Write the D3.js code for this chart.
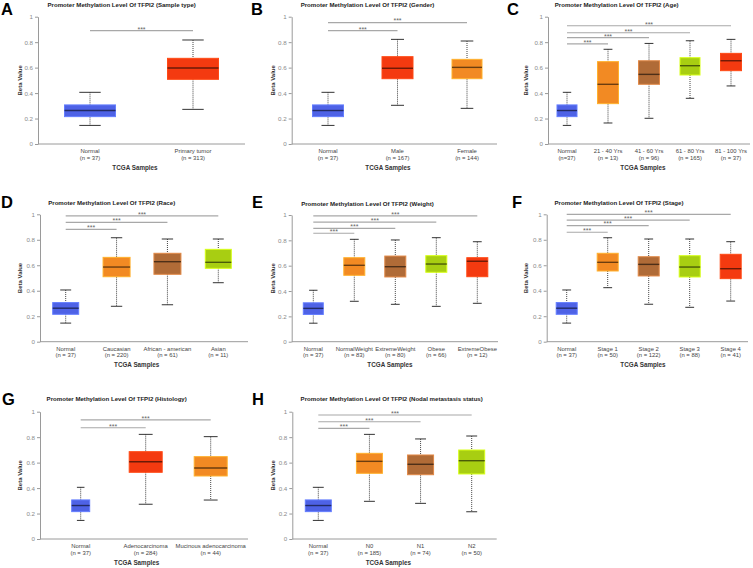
<!DOCTYPE html>
<html><head><meta charset="utf-8">
<script src="https://cdn.jsdelivr.net/npm/d3@7"></script>
<style>body{margin:0;background:#fff}svg{display:block}text{font-family:"Liberation Sans",Arial,sans-serif}</style>
</head><body><svg id="c" width="753" height="568"></svg>
<script>
// ---------- DATA ----------
const yTicks = [0, 0.2, 0.4, 0.6, 0.8, 1];
const sigLabel = "***";

const catsA = ["Normal", "Primary tumor"];
const nA = ["(n = 37)", "(n = 313)"];
const lowA = [0.146, 0.272], q1A = [0.215, 0.508], medA = [0.263, 0.597], q3A = [0.307, 0.673], highA = [0.406, 0.817];

const catsB = ["Normal", "Male", "Female"];
const nB = ["(n = 37)", "(n = 167)", "(n = 144)"];
const lowB = [0.146, 0.304, 0.28], q1B = [0.215, 0.513, 0.513], medB = [0.263, 0.595, 0.602], q3B = [0.307, 0.686, 0.665], highB = [0.406, 0.822, 0.809];

const catsC = ["Normal", "21 - 40 Yrs", "41 - 60 Yrs", "61 - 80 Yrs", "81 - 100 Yrs"];
const nC = ["(n=37)", "(n = 13)", "(n = 96)", "(n = 165)", "(n = 37)"];
const lowC = [0.146, 0.165, 0.202, 0.359, 0.456], q1C = [0.215, 0.317, 0.469, 0.542, 0.576], medC = [0.263, 0.469, 0.547, 0.615, 0.654], q3C = [0.307, 0.647, 0.654, 0.678, 0.712], highC = [0.406, 0.744, 0.79, 0.811, 0.822];

const catsD = ["Normal", "Caucasian", "African - american", "Asian"];
const nD = ["(n = 37)", "(n = 220)", "(n = 61)", "(n = 11)"];
const lowD = [0.146, 0.278, 0.29, 0.463], q1D = [0.215, 0.51, 0.529, 0.576], medD = [0.263, 0.586, 0.628, 0.623], q3D = [0.307, 0.662, 0.694, 0.725], highD = [0.406, 0.816, 0.806, 0.806];

const catsE = ["Normal", "NormalWeight", "ExtremeWeight", "Obese", "ExtremeObese"];
const nE = ["(n = 37)", "(n = 83)", "(n = 80)", "(n = 66)", "(n = 12)"];
const lowE = [0.146, 0.319, 0.295, 0.279, 0.303], q1E = [0.215, 0.524, 0.511, 0.548, 0.513], medE = [0.263, 0.603, 0.592, 0.613, 0.635], q3E = [0.307, 0.663, 0.676, 0.679, 0.663], highE = [0.406, 0.808, 0.803, 0.821, 0.789];

const catsF = ["Normal", "Stage 1", "Stage 2", "Stage 3", "Stage 4"];
const nF = ["(n = 37)", "(n = 50)", "(n = 122)", "(n = 88)", "(n = 41)"];
const lowF = [0.146, 0.424, 0.294, 0.27, 0.319], q1F = [0.215, 0.555, 0.516, 0.508, 0.495], medF = [0.263, 0.623, 0.607, 0.586, 0.573], q3F = [0.307, 0.694, 0.667, 0.675, 0.686], highF = [0.406, 0.816, 0.806, 0.806, 0.785];

const catsG = ["Normal", "Adenocarcinoma", "Mucinous adenocarcinoma"];
const nG = ["(n = 37)", "(n = 284)", "(n = 44)"];
const lowG = [0.146, 0.273, 0.306], q1G = [0.215, 0.524, 0.495], medG = [0.263, 0.607, 0.558], q3G = [0.307, 0.686, 0.647], highG = [0.406, 0.822, 0.804];

const catsH = ["Normal", "N0", "N1", "N2"];
const nH = ["(n = 37)", "(n = 185)", "(n = 74)", "(n = 50)"];
const lowH = [0.146, 0.296, 0.28, 0.214], q1H = [0.215, 0.516, 0.505, 0.511], medH = [0.263, 0.61, 0.587, 0.615], q3H = [0.307, 0.673, 0.66, 0.699], highH = [0.406, 0.822, 0.786, 0.809];

// ---------- STYLE / LAYOUT ----------
const BLUE = "#4E62E6", RED = "#F43A10", ORANGE = "#F28A23", BROWN = "#B06B37", LIME = "#A8CE12";
const T = "Promoter Methylation Level Of TFPI2 ";
const panels = [
  {L:"A", title:T+"(Sample type)", cats:catsA, ns:nA, low:lowA, q1:q1A, med:medA, q3:q3A, high:highA,
   colors:[BLUE, RED], ax:38, y0:144, y1:16.7, xEnd:245, c0:90, c1:193, bw:[51,51], sig:[0.89],
   lx:1, ly:15, tx:121.7, ty:5, bx:20, gx:135},
  {L:"B", title:T+"(Gender)", cats:catsB, ns:nB, low:lowB, q1:q1B, med:medB, q3:q3B, high:highB,
   colors:[BLUE, RED, ORANGE], ax:291.7, y0:144, y1:16.7, xEnd:497, c0:328, c1:467, bw:[31,31,30], sig:[0.89,0.953],
   lx:251, ly:15, tx:367.5, ty:5, bx:273.3, gx:388},
  {L:"C", title:T+"(Age)", cats:catsC, ns:nC, low:lowC, q1:q1C, med:medC, q3:q3C, high:highC,
   colors:[BLUE, ORANGE, BROWN, LIME, RED], ax:548, y0:144, y1:16.7, xEnd:750, c0:567, c1:731, bw:[20,21,21,20,21], sig:[0.786,0.835,0.874,0.929],
   lx:507, ly:15, tx:616.7, ty:4.5, bx:526, gx:643},
  {L:"D", title:T+"(Race)", cats:catsD, ns:nD, low:lowD, q1:q1D, med:medD, q3:q3D, high:highD,
   colors:[BLUE, ORANGE, BROWN, LIME], ax:40, y0:341.7, y1:214.3, xEnd:248, c0:65.7, c1:218.3, bw:[26,27,27,26], sig:[0.882,0.937,0.987],
   lx:1, ly:208, tx:111.7, ty:202.7, bx:20, gx:136.7},
  {L:"E", title:T+"(Weight)", cats:catsE, ns:nE, low:lowE, q1:q1E, med:medE, q3:q3E, high:highE,
   colors:[BLUE, ORANGE, BROWN, LIME, RED], ax:291.7, y0:341.7, y1:215, xEnd:498, c0:313.3, c1:477.3, bw:[20,21,21,21,21], sig:[0.856,0.895,0.943,0.993],
   lx:252, ly:208, tx:367.5, ty:203.3, bx:272.7, gx:390},
  {L:"F", title:T+"(Stage)", cats:catsF, ns:nF, low:lowF, q1:q1F, med:medF, q3:q3F, high:highF,
   colors:[BLUE, ORANGE, BROWN, LIME, RED], ax:546.7, y0:341.7, y1:214.3, xEnd:748, c0:566.7, c1:730.7, bw:[21,21,21,21,21], sig:[0.859,0.911,0.955,1.0],
   lx:512, ly:208, tx:619, ty:202.7, bx:526, gx:643},
  {L:"G", title:T+"(Histology)", cats:catsG, ns:nG, low:lowG, q1:q1G, med:medG, q3:q3G, high:highG,
   colors:[BLUE, RED, ORANGE], ax:40, y0:539, y1:411.7, xEnd:248, c0:80.7, c1:210.7, bw:[18,33,33], sig:[0.874,0.935],
   lx:2, ly:405, tx:116.7, ty:399, bx:20, gx:136.7},
  {L:"H", title:T+"(Nodal metastasis status)", cats:catsH, ns:nH, low:lowH, q1:q1H, med:medH, q3:q3H, high:highH,
   colors:[BLUE, ORANGE, BROWN, LIME], ax:292.3, y0:539, y1:411.7, xEnd:496.7, c0:318.3, c1:471.7, bw:[26,26,26,26], sig:[0.869,0.921,0.974],
   lx:252, ly:405, tx:391.7, ty:399, bx:272.7, gx:388.3}
];

const svg = d3.select("#c");

panels.forEach(p => {
  const g = svg.append("g");
  const y = d3.scaleLinear().domain([0, 1]).range([p.y0, p.y1]);
  const x = d3.scalePoint().domain(p.cats).range([p.c0, p.c1]);

  // panel letter
  g.append("text").attr("x", p.lx).attr("y", p.ly).text(p.L)
    .attr("font-size", 16.5).attr("font-weight", "bold").attr("fill", "#000");
  // title
  g.append("text").attr("x", p.tx).attr("y", p.ty + 2.2).attr("text-anchor", "middle")
    .attr("font-size", 6.1).attr("fill", "#222").attr("font-weight", "bold").text(p.title);

  // y axis
  const ya = g.append("g").attr("transform", `translate(${p.ax},0)`)
    .call(d3.axisLeft(y).tickValues(yTicks).tickSize(3).tickSizeOuter(0).tickPadding(2)
      .tickFormat(d => (d === 0 || d === 1) ? String(d) : d.toFixed(1)));
  ya.select(".domain").attr("stroke", "#9a9a9a").attr("stroke-width", 1);
  ya.selectAll(".tick line").attr("stroke", "#9a9a9a");
  ya.selectAll(".tick text").attr("fill", "#8a8a8a").attr("font-size", 6.2)
    .attr("font-family", '"Liberation Sans",Arial,sans-serif');

  // x axis line
  g.append("line").attr("x1", p.ax).attr("x2", p.xEnd).attr("y1", p.y0).attr("y2", p.y0)
    .attr("stroke", "#9a9a9a").attr("stroke-width", 1);

  // y label
  g.append("text").attr("transform", `translate(${p.bx + 2},${(p.y0 + p.y1) / 2}) rotate(-90)`)
    .attr("text-anchor", "middle").attr("font-size", 6).attr("font-weight", "bold").attr("fill", "#333").text("Beta Value");
  // x title
  g.append("text").attr("x", p.gx).attr("y", p.y0 + 25.5).attr("text-anchor", "middle")
    .attr("font-size", 6.3).attr("font-weight", "bold").attr("fill", "#333").text("TCGA Samples");

  // category labels
  p.cats.forEach((c, i) => {
    g.append("text").attr("x", x(c)).attr("y", p.y0 + 8.8).attr("text-anchor", "middle")
      .attr("font-size", 5.9).attr("fill", "#444").text(c);
    g.append("text").attr("x", x(c)).attr("y", p.y0 + 15.5).attr("text-anchor", "middle")
      .attr("font-size", 5.9).attr("fill", "#444").text(p.ns[i]);
  });

  // significance lines
  p.sig.forEach((v, k) => {
    const xa = x(p.cats[0]), xb = x(p.cats[k + 1]), yy = y(v);
    g.append("line").attr("x1", xa).attr("x2", xb).attr("y1", yy).attr("y2", yy)
      .attr("stroke", "#a8a8a8").attr("stroke-width", 1.2);
    g.append("text").attr("x", (xa + xb) / 2).attr("y", yy + 0.8).attr("text-anchor", "middle")
      .attr("font-size", 7).attr("fill", "#666").text(sigLabel);
  });

  // boxes
  p.cats.forEach((c, i) => {
    const cx = x(c), w = p.bw[i], col = d3.color(p.colors[i]);
    const cw = Math.max(7, w * 0.42);
    // whiskers (dotted)
    g.append("line").attr("x1", cx).attr("x2", cx).attr("y1", y(p.high[i])).attr("y2", y(p.q3[i]))
      .attr("stroke", "#444").attr("stroke-width", 1).attr("stroke-dasharray", "1,1");
    g.append("line").attr("x1", cx).attr("x2", cx).attr("y1", y(p.q1[i])).attr("y2", y(p.low[i]))
      .attr("stroke", "#444").attr("stroke-width", 1).attr("stroke-dasharray", "1,1");
    // caps
    [p.high[i], p.low[i]].forEach(v => {
      g.append("line").attr("x1", cx - cw / 2).attr("x2", cx + cw / 2).attr("y1", y(v)).attr("y2", y(v))
        .attr("stroke", "#333").attr("stroke-width", 1);
    });
    // box
    g.append("rect").attr("x", cx - w / 2).attr("y", y(p.q3[i])).attr("width", w)
      .attr("height", y(p.q1[i]) - y(p.q3[i])).attr("fill", col.formatHex())
      .attr("stroke", col.brighter(0.7).formatHex()).attr("stroke-width", 1);
    // median
    g.append("line").attr("x1", cx - w / 2).attr("x2", cx + w / 2).attr("y1", y(p.med[i])).attr("y2", y(p.med[i]))
      .attr("stroke", col.darker(2.3).formatHex()).attr("stroke-width", 1.4);
  });
});
</script>
</body></html>
